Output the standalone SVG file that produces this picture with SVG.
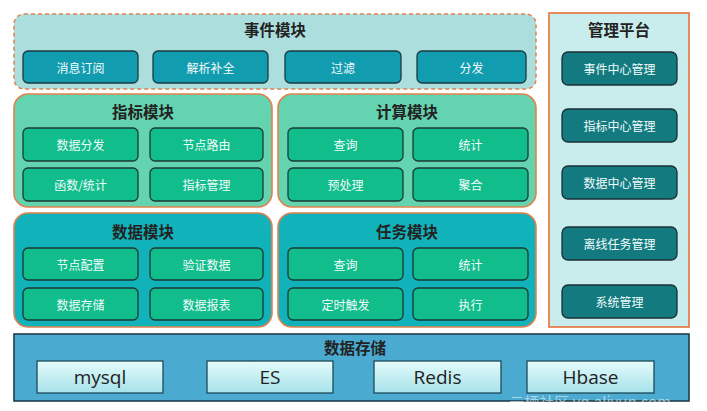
<svg xmlns="http://www.w3.org/2000/svg" width="707" height="411" viewBox="0 0 707 411">
<defs>
<linearGradient id="dbg" x1="0" y1="0" x2="0" y2="1">
<stop offset="0" stop-color="#e4fbfb"/>
<stop offset="1" stop-color="#a6e2ea"/>
</linearGradient>
<style>
text{font-family:"Noto Sans CJK SC","Noto Sans",sans-serif;text-anchor:middle;dominant-baseline:central}
.title{font-size:15.5px;font-weight:bold;fill:#222}
.lbl{font-size:12px;fill:#f2fbfb}
.db{font-size:19px;fill:#222;font-family:"Open Sans","Noto Sans",sans-serif}
.ev{fill:#129cb0;stroke:#1b3a44;stroke-width:1.3}
.gr{fill:#10bd8b;stroke:#1b3a34;stroke-width:1.3}
.mg{fill:#137b80;stroke:#1b3034;stroke-width:1.3}
.mod{stroke:#e0824e;stroke-width:1.6}
.dbx{fill:url(#dbg);stroke:#1d4a58;stroke-width:1.3}
</style>
</defs>
<rect width="707" height="411" fill="#ffffff"/>

<g id="event-module">
<rect x="14" y="14" width="522" height="75" rx="10" fill="#acdedd" stroke="#e0824e" stroke-width="1.5" stroke-dasharray="4,3"/>
<text class="title" x="275" y="29">事件模块</text>
<g id="ev1"><rect class="ev" x="23" y="51" width="115" height="32" rx="5"/><text class="lbl" x="80.5" y="67">消息订阅</text></g>
<g id="ev2"><rect class="ev" x="153" y="51" width="115" height="32" rx="5"/><text class="lbl" x="210.5" y="67">解析补全</text></g>
<g id="ev3"><rect class="ev" x="285" y="51" width="116" height="32" rx="5"/><text class="lbl" x="343" y="67">过滤</text></g>
<g id="ev4"><rect class="ev" x="417" y="51" width="109" height="32" rx="5"/><text class="lbl" x="471.5" y="67">分发</text></g>
</g>

<g id="index-module">
<rect class="mod" x="14" y="94" width="258" height="113" rx="14" fill="#64d4b0"/>
<text class="title" x="143" y="111">指标模块</text>
<g id="ix1"><rect class="gr" x="23" y="128" width="115" height="33" rx="5"/><text class="lbl" x="80.5" y="144.5">数据分发</text></g>
<g id="ix2"><rect class="gr" x="150" y="128" width="113" height="33" rx="5"/><text class="lbl" x="206.5" y="144.5">节点路由</text></g>
<g id="ix3"><rect class="gr" x="23" y="168" width="115" height="33" rx="5"/><text class="lbl" x="80.5" y="184.5">函数/统计</text></g>
<g id="ix4"><rect class="gr" x="150" y="168" width="113" height="33" rx="5"/><text class="lbl" x="206.5" y="184.5">指标管理</text></g>
</g>

<g id="compute-module">
<rect class="mod" x="278" y="94" width="258" height="113" rx="14" fill="#64d4b0"/>
<text class="title" x="407" y="111">计算模块</text>
<g id="cp1"><rect class="gr" x="288" y="128" width="115" height="33" rx="5"/><text class="lbl" x="345.5" y="144.5">查询</text></g>
<g id="cp2"><rect class="gr" x="413" y="128" width="115" height="33" rx="5"/><text class="lbl" x="470.5" y="144.5">统计</text></g>
<g id="cp3"><rect class="gr" x="288" y="168" width="115" height="33" rx="5"/><text class="lbl" x="345.5" y="184.5">预处理</text></g>
<g id="cp4"><rect class="gr" x="413" y="168" width="115" height="33" rx="5"/><text class="lbl" x="470.5" y="184.5">聚合</text></g>
</g>

<g id="data-module">
<rect class="mod" x="14" y="213" width="258" height="114" rx="14" fill="#12b2ba"/>
<text class="title" x="143" y="231">数据模块</text>
<g id="dm1"><rect class="gr" x="23" y="248" width="115" height="32" rx="5"/><text class="lbl" x="80.5" y="264">节点配置</text></g>
<g id="dm2"><rect class="gr" x="150" y="248" width="113" height="32" rx="5"/><text class="lbl" x="206.5" y="264">验证数据</text></g>
<g id="dm3"><rect class="gr" x="23" y="288" width="115" height="32" rx="5"/><text class="lbl" x="80.5" y="304">数据存储</text></g>
<g id="dm4"><rect class="gr" x="150" y="288" width="113" height="32" rx="5"/><text class="lbl" x="206.5" y="304">数据报表</text></g>
</g>

<g id="task-module">
<rect class="mod" x="278" y="213" width="258" height="114" rx="14" fill="#12b2ba"/>
<text class="title" x="407" y="231">任务模块</text>
<g id="tk1"><rect class="gr" x="288" y="248" width="115" height="32" rx="5"/><text class="lbl" x="345.5" y="264">查询</text></g>
<g id="tk2"><rect class="gr" x="413" y="248" width="115" height="32" rx="5"/><text class="lbl" x="470.5" y="264">统计</text></g>
<g id="tk3"><rect class="gr" x="288" y="288" width="115" height="32" rx="5"/><text class="lbl" x="345.5" y="304">定时触发</text></g>
<g id="tk4"><rect class="gr" x="413" y="288" width="115" height="32" rx="5"/><text class="lbl" x="470.5" y="304">执行</text></g>
</g>

<g id="mgmt-platform">
<rect x="549" y="13" width="140" height="314" fill="#c9ecec" stroke="#e8703a" stroke-width="1.6"/>
<text class="title" x="619" y="29">管理平台</text>
<g id="mg1"><rect class="mg" x="562" y="52" width="115" height="33" rx="6"/><text class="lbl" x="619.5" y="68.5">事件中心管理</text></g>
<g id="mg2"><rect class="mg" x="562" y="109" width="115" height="33" rx="6"/><text class="lbl" x="619.5" y="125.5">指标中心管理</text></g>
<g id="mg3"><rect class="mg" x="562" y="166" width="115" height="33" rx="6"/><text class="lbl" x="619.5" y="182.5">数据中心管理</text></g>
<g id="mg4"><rect class="mg" x="562" y="227" width="115" height="33" rx="6"/><text class="lbl" x="619.5" y="243.5">离线任务管理</text></g>
<g id="mg5"><rect class="mg" x="562" y="285" width="115" height="33" rx="6"/><text class="lbl" x="619.5" y="301.5">系统管理</text></g>
</g>

<g id="data-storage">
<rect x="14" y="334" width="675" height="67" fill="#4aaad0" stroke="#1d3e4c" stroke-width="1.6"/>
<text class="title" x="355" y="347">数据存储</text>
<g id="db1"><rect class="dbx" x="37" y="361" width="126" height="32"/><text class="db" x="100" y="377">mysql</text></g>
<g id="db2"><rect class="dbx" x="207" y="361" width="126" height="32"/><text class="db" x="270" y="377">ES</text></g>
<g id="db3"><rect class="dbx" x="374" y="361" width="127" height="32"/><text class="db" x="437.5" y="377">Redis</text></g>
<g id="db4"><rect class="dbx" x="527" y="361" width="127" height="32"/><text class="db" x="590.5" y="377">Hbase</text></g>
</g>

<g id="connectors"></g>

<text x="590" y="401" style="font-size:15px;fill:#ffffff;fill-opacity:0.55;font-family:'Noto Sans CJK SC','Open Sans',sans-serif">云栖社区 yq.aliyun.com</text>
</svg>
